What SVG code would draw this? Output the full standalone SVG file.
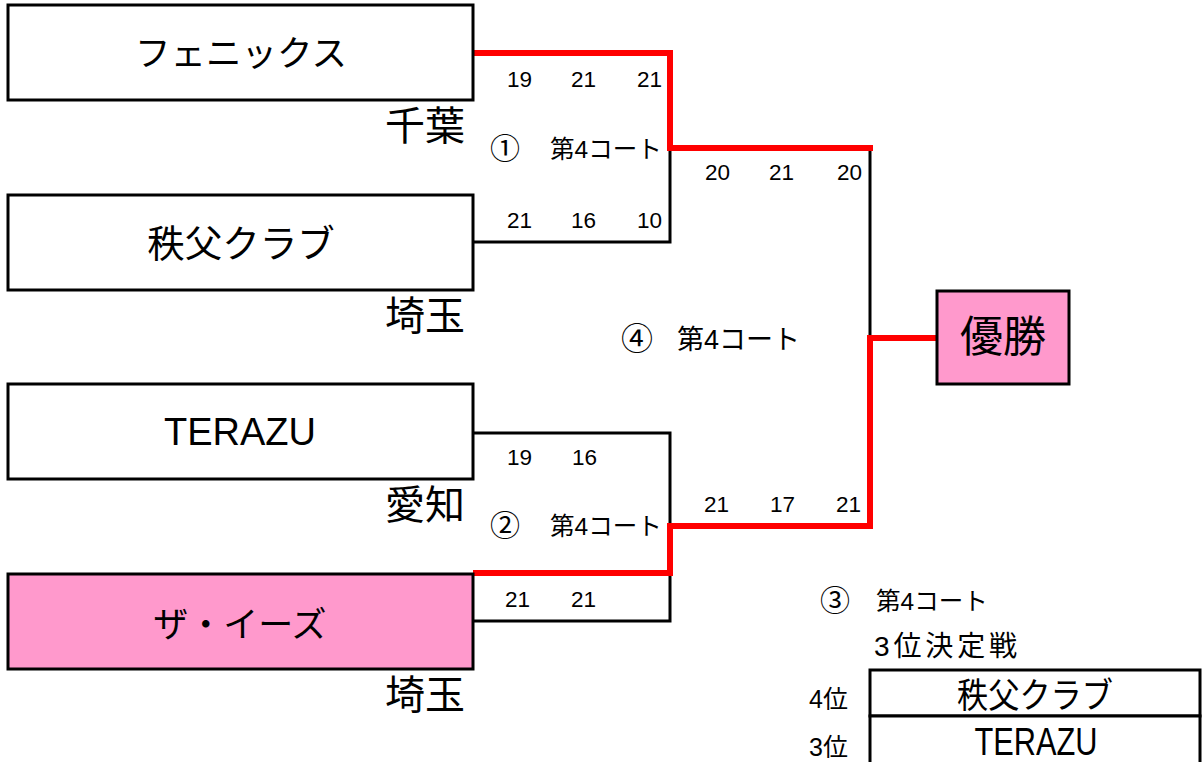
<svg xmlns="http://www.w3.org/2000/svg" width="1203" height="762" viewBox="0 0 1203 762">
<style>
text{font-family:"Liberation Sans","Noto Sans CJK JP",sans-serif;fill:#000}
.box{fill:#fff;stroke:#000;stroke-width:3}
.win{fill:#FF99CC;stroke:#000;stroke-width:3}
.team{font-size:35px;text-anchor:middle}
.pref{font-size:40px;text-anchor:end}
.sc{font-size:22.5px;text-anchor:end}
.lbl{font-size:24.5px}
.cir{font-size:30px}
.blk{fill:none;stroke:#000;stroke-width:3}
.red{fill:none;stroke:#FF0000;stroke-width:6}
</style>
<rect width="1203" height="762" fill="#fff"/>
<g id="connectors">
<polyline class="blk" points="473,242 670,242 670,148"/>
<polyline class="blk" points="870,148 870,338"/>
<polyline class="blk" points="473,433 670,433 670,526"/>
<polyline class="blk" points="473,621 670,621 670,573"/>
<polyline class="red" points="473,53 670,53 670,148 873,148"/>
<polyline class="red" points="473,573 670,573 670,526 870,526 870,338 937,338"/>
</g>
<g id="team-phoenix">
<rect class="box" x="8" y="5" width="465" height="95"/>
<text class="team" x="241" y="66" style="font-size:35.5px">フェニックス</text>
<text class="pref" x="465" y="140">千葉</text>
</g>
<g id="team-chichibu">
<rect class="box" x="8" y="195" width="465" height="95"/>
<text class="team" x="241" y="257" style="font-size:37.5px">秩父クラブ</text>
<text class="pref" x="465" y="330">埼玉</text>
</g>
<g id="team-terazu">
<rect class="box" x="8" y="384" width="465" height="95"/>
<text class="team" x="240" y="445" style="font-size:38px">TERAZU</text>
<text class="pref" x="465" y="519">愛知</text>
</g>
<g id="team-theeeze">
<rect class="win" x="8" y="574" width="465" height="95"/>
<text class="team" x="240" y="637">ザ・イーズ</text>
<text class="pref" x="465" y="709">埼玉</text>
</g>
<g id="champion">
<rect class="win" x="937" y="291" width="132" height="93"/>
<text class="team" x="1003" y="352" style="font-size:43px">優勝</text>
</g>
<g id="match1">
<text class="sc" x="532" y="87">19</text>
<text class="sc" x="596" y="87">21</text>
<text class="sc" x="662" y="87">21</text>
<text class="cir" x="490" y="159">①</text>
<text class="lbl" x="550" y="158">第4コート</text>
<text class="sc" x="532" y="228">21</text>
<text class="sc" x="596" y="228">16</text>
<text class="sc" x="662" y="228">10</text>
</g>
<g id="match4">
<text class="sc" x="730" y="180">20</text>
<text class="sc" x="794" y="180">21</text>
<text class="sc" x="862" y="180">20</text>
<text class="cir" x="621" y="350" style="font-size:32px">④</text>
<text class="lbl" x="677" y="349" style="font-size:27px">第4コート</text>
<text class="sc" x="729" y="512">21</text>
<text class="sc" x="795" y="512">17</text>
<text class="sc" x="861" y="512">21</text>
</g>
<g id="match2">
<text class="sc" x="532" y="465">19</text>
<text class="sc" x="597" y="465">16</text>
<text class="cir" x="490" y="536">②</text>
<text class="lbl" x="550" y="535">第4コート</text>
<text class="sc" x="530" y="607">21</text>
<text class="sc" x="596" y="607">21</text>
</g>
<g id="third-place">
<text class="cir" x="820" y="611">③</text>
<text class="lbl" x="876" y="610">第4コート</text>
<text class="lbl" x="874" y="656" textLength="143" style="font-size:28px">3位決定戦</text>
<rect class="box" x="870" y="670" width="330" height="46"/>
<rect class="box" x="870" y="716" width="330" height="50"/>
<text class="lbl" x="848" y="708" text-anchor="end" style="font-size:25px">4位</text>
<text class="lbl" x="848" y="756" text-anchor="end" style="font-size:25px">3位</text>
<text class="team" x="1035" y="708" textLength="156" lengthAdjust="spacingAndGlyphs" style="font-size:35px">秩父クラブ</text>
<text class="team" x="1036" y="755" textLength="123" lengthAdjust="spacingAndGlyphs" style="font-size:38px">TERAZU</text>
</g>
</svg>
